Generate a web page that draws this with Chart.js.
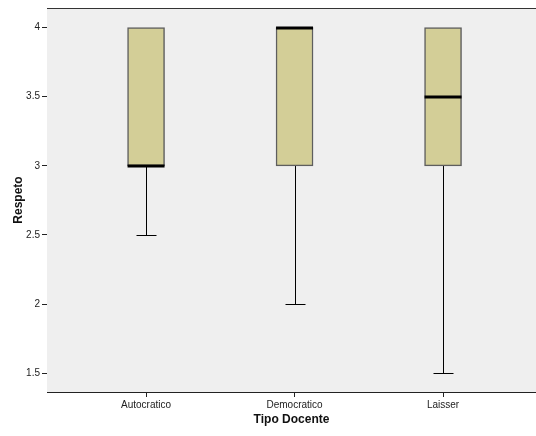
<!DOCTYPE html>
<html>
<head>
<meta charset="utf-8">
<script src="https://cdn.jsdelivr.net/npm/chart.js@4"></script>
<style>
  body { margin: 0; background: #ffffff; }
  #wrap { width: 536px; height: 436px; }
</style>
</head>
<body>
<div id="wrap"><canvas id="chartCanvas" width="536" height="436"></canvas></div>
<script>
const categories = ["Autocratico", "Democratico", "Laisser"];
const whiskerLow = [2.5, 2.0, 1.5];
const q1 = [3.0, 3.0, 3.0];
const medians = [3.0, 4.0, 3.5];
const q3 = [4.0, 4.0, 4.0];
const whiskerHigh = [4.0, 4.0, 4.0];
const yTicks = [1.5, 2, 2.5, 3, 3.5, 4];

const boxFill = "#d3ce97";
const boxEdge = "#5e5e5e";
const plotBg = "#efefef";

const boxData = categories.map((c, i) => ({ x: i + 1, y: [q1[i], q3[i]] }));

// background, frame, whiskers and medians, all placed through the scales
const boxExtras = {
    id: "boxExtras",
    beforeDatasetsDraw(chart) {
        const { ctx, chartArea: a, scales: { x, y } } = chart;
        ctx.save();
        ctx.fillStyle = plotBg;
        ctx.fillRect(a.left, a.top, a.right - a.left, a.bottom - a.top);
        ctx.strokeStyle = "#333333";
        ctx.lineWidth = 1;
        ctx.beginPath();
        ctx.moveTo(a.left, a.top + 0.5);
        ctx.lineTo(a.right, a.top + 0.5);
        ctx.stroke();

        ctx.strokeStyle = "#000000";
        ctx.lineWidth = 1;
        categories.forEach((c, i) => {
            const cx = Math.round(x.getPixelForValue(i + 1)) + 0.5;
            const capHalf = 10;
            [[whiskerLow[i], q1[i]], [whiskerHigh[i], q3[i]]].forEach(([end, edge]) => {
                if (end === edge) return;
                const ye = Math.round(y.getPixelForValue(end)) + 0.5;
                const yb = y.getPixelForValue(edge);
                ctx.beginPath();
                ctx.moveTo(cx, ye);
                ctx.lineTo(cx, yb);
                ctx.moveTo(cx - capHalf, ye);
                ctx.lineTo(cx + capHalf, ye);
                ctx.stroke();
            });
        });
        ctx.restore();
    },
    afterDatasetsDraw(chart) {
        const { ctx, scales: { x, y } } = chart;
        const meta = chart.getDatasetMeta(0);
        ctx.save();
        ctx.strokeStyle = "#000000";
        ctx.lineWidth = 3;
        categories.forEach((c, i) => {
            const bar = meta.data[i];
            const half = bar.width / 2;
            const cx = x.getPixelForValue(i + 1);
            const ym = Math.round(y.getPixelForValue(medians[i]));
            ctx.beginPath();
            ctx.moveTo(cx - half, ym);
            ctx.lineTo(cx + half, ym);
            ctx.stroke();
        });
        ctx.restore();
    }
};

const ctx = document.getElementById("chartCanvas").getContext("2d");

new Chart(ctx, {
    type: "bar",
    data: {
        datasets: [{
            label: "Respeto",
            data: boxData,
            backgroundColor: boxFill,
            borderColor: boxEdge,
            borderWidth: 1.5,
            borderSkipped: false,
            barThickness: 37
        }]
    },
    options: {
        responsive: false,
        animation: false,
        layout: { padding: { top: 8, right: 0, left: 0, bottom: 0 } },
        plugins: {
            legend: { display: false },
            tooltip: { enabled: false }
        },
        scales: {
            x: {
                type: "linear",
                min: 0.333,
                max: 3.626,
                offset: false,
                afterBuildTicks(scale) {
                    scale.ticks = categories.map((c, i) => ({ value: i + 1 }));
                },
                afterFit(scale) { scale.height = 44; },
                ticks: {
                    color: "#222222",
                    font: { family: "Arial, 'Liberation Sans'", size: 10 },
                    padding: 2,
                    maxRotation: 0,
                    callback: (v) => categories[v - 1]
                },
                grid: {
                    drawOnChartArea: false,
                    offset: false,
                    tickLength: 5,
                    color: "#222222"
                },
                border: { color: "#222222", width: 1 },
                title: {
                    display: true,
                    text: "Tipo Docente",
                    color: "#111111",
                    font: { family: "Arial, 'Liberation Sans'", size: 12, weight: "bold" },
                    padding: { top: 2, bottom: 9 }
                }
            },
            y: {
                min: 1.365,
                max: 4.141,
                afterBuildTicks(scale) {
                    scale.ticks = yTicks.map(v => ({ value: v }));
                },
                afterFit(scale) { scale.width = 47; },
                ticks: {
                    color: "#222222",
                    font: { family: "Arial, 'Liberation Sans'", size: 10 },
                    padding: 2,
                    callback: (v) => String(v)
                },
                grid: {
                    drawOnChartArea: false,
                    tickLength: 5,
                    color: "#222222"
                },
                border: { color: "#222222", width: 1 },
                title: {
                    display: true,
                    text: "Respeto",
                    color: "#111111",
                    font: { family: "Arial, 'Liberation Sans'", size: 12, weight: "bold" },
                    padding: { top: 11, bottom: 0 }
                }
            }
        }
    },
    plugins: [boxExtras]
});
</script>
</body>
</html>
